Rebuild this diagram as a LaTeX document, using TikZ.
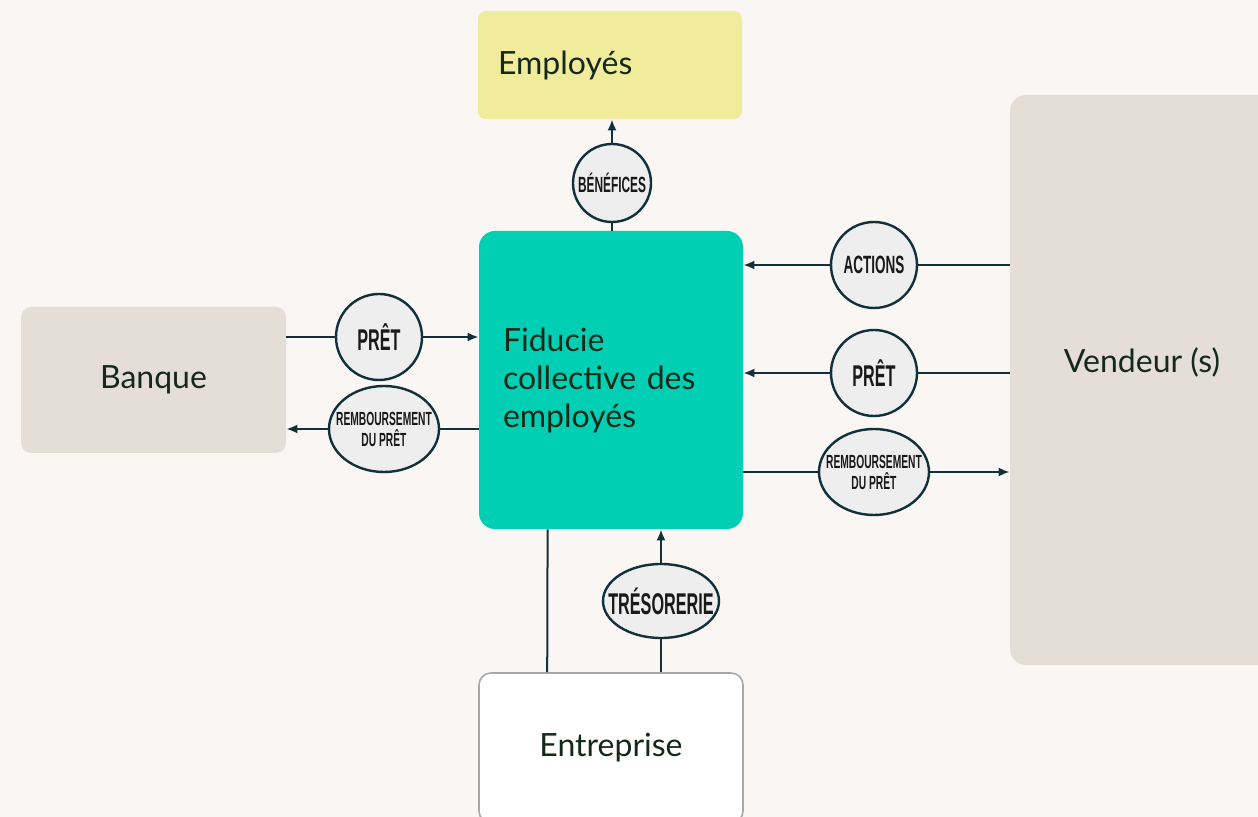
\documentclass[tikz,border=0pt]{standalone}
\usepackage{fontspec}
\setmainfont{Lato}
\newfontfamily\tagfont[FakeStretch=0.54]{Liberation Sans}
\usetikzlibrary{arrows.meta,shapes.geometric}

\definecolor{bgcol}{HTML}{FAF6F3}
\definecolor{emplcol}{HTML}{F1EB9C}
\definecolor{fidcol}{HTML}{00CFB3}
\definecolor{sandcol}{HTML}{E5DED7}
\definecolor{linecol}{HTML}{10303A}
\definecolor{tagcol}{HTML}{EEEEEE}
\definecolor{txtcol}{HTML}{14291A}
\definecolor{entrcol}{HTML}{A8A8A8}

\newcommand{\tagtext}[1]{\makebox[0pt]{#1}}

\begin{document}
\begin{tikzpicture}[x=0.5pt,y=-0.5pt,
  box/.style={rounded corners=7pt, minimum width=132pt, inner sep=0pt, text=txtcol,
    font=\fontsize{16}{19}\selectfont},
  flow/.style={draw=linecol, line width=1pt},
  arr/.style={-{Latex[length=5.5pt,width=4.5pt]}},
  tag/.style={ellipse, draw=linecol, line width=1.2pt, fill=tagcol, inner sep=0pt,
    align=center, text=black!90}]
\useasboundingbox (0,0) rectangle (1258,817);
\clip (0,0) rectangle (1258,817);
\fill[bgcol] (0,0) rectangle (1258,817);

\node[box, fill=emplcol, minimum height=54pt, rounded corners=4pt, text width=112pt, inner xsep=10pt, align=left] (empl) at (610,65) {Employés};
\node[box, fill=fidcol, minimum height=149pt, rounded corners=8pt, text width=108pt, inner xsep=12pt, align=left] (fid) at (611,380) {Fiducie\\collective des\\employés};
\node[box, fill=sandcol, minimum width=132.5pt, minimum height=73pt, rounded corners=5pt] (banque) at (153.5,380) {Banque};
\node[box, fill=sandcol, minimum height=285pt, rounded corners=8pt] (vend) at (1142,380) {};
\node[text=txtcol, font=\fontsize{16}{19}\selectfont] (vendlbl) at (1142,362) {Vendeur (s)};
\node[box, fill=white, draw=entrcol, line width=0.8pt, minimum height=75pt, rounded corners=6pt] (entr) at (611,748) {Entreprise};

\node[tag, minimum width=39pt, minimum height=39pt, font=\tagfont\bfseries\fontsize{11}{12}\selectfont] (benef) at (612,183) {\tagtext{BÉNÉFICES}};
\node[tag, minimum width=43pt, minimum height=43pt, font=\tagfont\bfseries\fontsize{15}{16}\selectfont] (pretL) at (379,337) {\tagtext{PRÊT}};
\node[tag, minimum width=55pt, minimum height=43pt, font=\tagfont\bfseries\fontsize{9.5}{10.5}\selectfont] (rembL) at (384,429) {\tagtext{REMBOURSEMENT}\\\tagtext{DU PRÊT}};
\node[tag, minimum width=43pt, minimum height=43pt, font=\tagfont\bfseries\fontsize{12.5}{14}\selectfont] (actions) at (874,265) {\tagtext{ACTIONS}};
\node[tag, minimum width=43pt, minimum height=43pt, font=\tagfont\bfseries\fontsize{15}{16}\selectfont] (pretR) at (874,373) {\tagtext{PRÊT}};
\node[tag, minimum width=55pt, minimum height=43pt, font=\tagfont\bfseries\fontsize{9.5}{10.5}\selectfont] (rembR) at (874,472) {\tagtext{REMBOURSEMENT}\\\tagtext{DU PRÊT}};
\node[tag, minimum width=58pt, minimum height=37pt, font=\tagfont\bfseries\fontsize{15}{16}\selectfont] (tres) at (661,601) {\tagtext{TRÉSORERIE}};

\draw[flow] (benef.south |- fid.north) to (benef.south);
\draw[flow, arr] (benef.north) to (benef.north |- empl.south);
\draw[flow] (banque.east |- pretL.west) to (pretL.west);
\draw[flow, arr] (pretL.east) to (pretL.east -| fid.west);
\draw[flow] (rembL.east -| fid.west) to (rembL.east);
\draw[flow, arr] (rembL.west) to (rembL.west -| banque.east);
\draw[flow] (actions.east -| vend.west) to (actions.east);
\draw[flow, arr] (actions.west) to (actions.west -| fid.east);
\draw[flow] (pretR.east -| vend.west) to (pretR.east);
\draw[flow, arr] (pretR.west) to (pretR.west -| fid.east);
\draw[flow] (rembR.west -| fid.east) to (rembR.west);
\draw[flow, arr] (rembR.east) to (rembR.east -| vend.west);
\draw[flow] (tres.south |- entr.north) to (tres.south);
\draw[flow, arr] (tres.north) to (tres.north |- fid.south);
\draw[flow] ([xshift=34.5pt]entr.north west) to ([xshift=34.5pt]fid.south west);
\end{tikzpicture}
\end{document}
